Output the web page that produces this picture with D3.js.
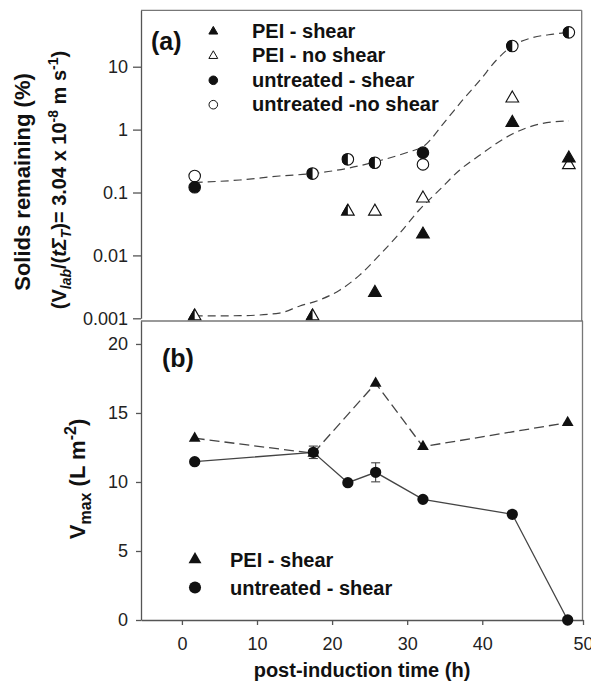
<!DOCTYPE html>
<html>
<head>
<meta charset="utf-8">
<script src="https://cdn.jsdelivr.net/npm/d3@7"></script>
<style>
  body { margin: 0; background: #fff; }
  svg text { font-family: "Liberation Sans", Arial, sans-serif; fill: #111; }
  .axis text { font-size: 18px; fill: #222; }
  .axis path, .axis line { stroke: #555; stroke-width: 1.3; }
  .frame { stroke: #777; stroke-width: 1.3; }
  .bold { font-weight: bold; }
</style>
</head>
<body>
<div id="chart-area"></div>
<script>
// ---- (a) solids remaining, log scale ----
var hoursSolids = [1.7, 17.4, 22.1, 25.7, 32.1, 44, 48.8];
var peiShear = [0.00108, 0.00108, 0.05, 0.00255, 0.0216, 1.29, 0.35];
var peiNoShear = [0.00108, 0.00108, 0.05, 0.05, 0.081, 3.15, 0.274];
var untreatedShear = [0.121, 0.20, 0.337, 0.298, 0.43, 21.3, 35.2];
var untreatedNoShear = [0.183, 0.20, 0.337, 0.298, 0.28, 21.3, 35.2];

// dashed trend curves
var untreatedFitTime = [1.7, 7.7, 13.0, 17.4, 22.1, 26.3, 30.3, 32.1, 35.2, 37.4, 39.7, 41.9, 44.1, 45.5, 47.5, 48.8];
var untreatedFitValue = [0.145, 0.158, 0.183, 0.20, 0.243, 0.32, 0.445, 0.535, 1.42, 2.96, 6.1, 12.8, 22, 28.3, 33, 35.2];
var peiFitTime = [1.7, 7.7, 13.0, 15.7, 18.3, 21.0, 23.7, 26.3, 29.0, 31.6, 34.3, 37.0, 39.5, 44.0, 46.5, 48.8];
var peiFitValue = [0.00109, 0.0011, 0.00121, 0.00157, 0.00195, 0.0028, 0.0049, 0.0101, 0.0225, 0.0527, 0.11, 0.228, 0.38, 0.85, 1.25, 1.38];

var solidsTicks = [0.001, 0.01, 0.1, 1, 10];
var solidsTickLabels = ["0.001", "0.01", "0.1", "1", "10"];

// ---- (b) Vmax ----
var hoursPei = [1.7, 17.5, 25.8, 32.1, 48.7];
var vmaxPei = [13.17, 12.08, 17.15, 12.56, 14.3];
var hoursUntreated = [1.7, 17.5, 22.1, 25.8, 32.1, 44, 48.7];
var vmaxUntreated = [11.47, 12.15, 9.95, 10.7, 8.74, 7.66, 0];
var vmaxUntreatedErr = [0, 0.45, 0, 0.69, 0, 0.2, 0];

var vmaxTicks = [0, 5, 10, 15, 20];
var timeTicks = [0, 10, 20, 30, 40, 50];

var legendA = ["PEI - shear", "PEI - no shear", "untreated - shear", "untreated -no shear"];
var legendB = ["PEI - shear", "untreated - shear"];

var width = 591, height = 690;
var left = 141, right = 583;

var svg = d3.select("#chart-area")
    .append("svg")
    .attr("width", width)
    .attr("height", height);

// clip used to draw the left half of a filled symbol over an open one
svg.append("defs").append("clipPath")
    .attr("id", "left-half")
    .attr("clipPathUnits", "objectBoundingBox")
    .append("rect")
    .attr("x", 0).attr("y", 0).attr("width", 0.5).attr("height", 1);

// x scale: the figure's last interval is drawn wider than the rest
var x = d3.scaleLinear()
    .domain([-5.45, 44, 50])
    .range([left, 512.3, right]);

var yTop = d3.scaleLog()
    .domain([0.001, Math.pow(10, 1.897)])
    .range([318.3, 10.3]);

var yBot = d3.scaleLinear()
    .domain([0, 21.7])
    .range([620, 320.5]);

var tri = d3.symbol().type(d3.symbolTriangle);
var circ = d3.symbol().type(d3.symbolCircle);

// ================= panel (a) =================
svg.append("g")
    .attr("class", "axis")
    .attr("transform", "translate(" + left + ",0)")
    .call(d3.axisLeft(yTop)
        .tickValues(solidsTicks)
        .tickFormat(function(d, i) { return solidsTickLabels[i]; })
        .tickSize(8).tickSizeOuter(0).tickPadding(5));

svg.append("line").attr("class", "frame")
    .attr("x1", left).attr("x2", 581.7).attr("y1", 10.3).attr("y2", 10.3);
svg.append("line").attr("class", "frame")
    .attr("x1", 581.7).attr("x2", 581.7).attr("y1", 10.3).attr("y2", 321);

var fitLine = d3.line()
    .x(function(d) { return x(d[0]); })
    .y(function(d) { return yTop(d[1]); })
    .curve(d3.curveMonotoneX);

svg.append("path")
    .datum(d3.zip(untreatedFitTime, untreatedFitValue))
    .attr("d", fitLine)
    .attr("fill", "none").attr("stroke", "#444").attr("stroke-width", 1.2)
    .attr("stroke-dasharray", "8,5");

svg.append("path")
    .datum(d3.zip(peiFitTime, peiFitValue))
    .attr("d", fitLine)
    .attr("fill", "none").attr("stroke", "#444").attr("stroke-width", 1.2)
    .attr("stroke-dasharray", "8,5");

// draw an open series, then the filled series (half-filled where both coincide)
function drawPair(gen, size, filledVals, openVals) {
    var g = svg.append("g");
    hoursSolids.forEach(function(t, i) {
        var tr = "translate(" + x(t) + "," + yTop(openVals[i]) + ")";
        g.append("path").attr("d", gen.size(size)()).attr("transform", tr)
            .attr("fill", "#fff").attr("stroke", "#111").attr("stroke-width", 1.1);
    });
    hoursSolids.forEach(function(t, i) {
        var tr = "translate(" + x(t) + "," + yTop(filledVals[i]) + ")";
        var p = g.append("path").attr("d", gen.size(size)()).attr("transform", tr)
            .attr("fill", "#111").attr("stroke", "#111").attr("stroke-width", 1.1);
        if (filledVals[i] === openVals[i]) p.attr("clip-path", "url(#left-half)");
    });
}
drawPair(tri, 70, peiShear, peiNoShear);
drawPair(circ, 104, untreatedShear, untreatedNoShear);

svg.append("text").attr("class", "bold")
    .attr("x", 151).attr("y", 50)
    .style("font-size", "25px")
    .text("(a)");

// legend (a)
var legA = svg.append("g");
var legASymbols = [
    {gen: tri, size: 34, fill: "#111"},
    {gen: tri, size: 34, fill: "#fff"},
    {gen: circ, size: 58, fill: "#111"},
    {gen: circ, size: 58, fill: "#fff"}
];
legendA.forEach(function(label, i) {
    var yy = 38 + i * 24.4;
    legA.append("path")
        .attr("d", legASymbols[i].gen.size(legASymbols[i].size)())
        .attr("transform", "translate(213.3," + (yy - 6.5) + ")")
        .attr("fill", legASymbols[i].fill).attr("stroke", "#111").attr("stroke-width", 1);
    legA.append("text").attr("class", "bold")
        .attr("x", 252).attr("y", yy)
        .style("font-size", "20px")
        .text(label);
});

// y label (a)
svg.append("text").attr("class", "bold")
    .attr("transform", "translate(30,182) rotate(-90)")
    .attr("text-anchor", "middle")
    .style("font-size", "22px")
    .text("Solids remaining (%)");

var lab2 = svg.append("text").attr("class", "bold")
    .attr("transform", "translate(66,180) rotate(-90)")
    .attr("text-anchor", "middle")
    .style("font-size", "20px");
lab2.append("tspan").text("(V");
lab2.append("tspan").attr("dy", 5).style("font-size", "14px").style("font-style", "italic").text("lab");
lab2.append("tspan").attr("dy", -5).text("/(");
lab2.append("tspan").style("font-style", "italic").text("t\u03A3");
lab2.append("tspan").attr("dy", 5).style("font-size", "14px").style("font-style", "italic").text("T");
lab2.append("tspan").attr("dy", -5).text(")= 3.04 x 10");
lab2.append("tspan").attr("dy", -8).style("font-size", "14px").text("-8");
lab2.append("tspan").attr("dy", 8).text(" m s");
lab2.append("tspan").attr("dy", -8).style("font-size", "14px").text("-1");
lab2.append("tspan").attr("dy", 8).text(")");

// ================= panel (b) =================
svg.append("g")
    .attr("class", "axis")
    .attr("transform", "translate(" + left + ",0)")
    .call(d3.axisLeft(yBot).tickValues(vmaxTicks)
        .tickSize(5).tickSizeOuter(0).tickPadding(8));

svg.append("g")
    .attr("class", "axis")
    .attr("transform", "translate(0,620)")
    .call(d3.axisBottom(x).tickValues(timeTicks)
        .tickSize(5).tickSizeOuter(0).tickPadding(12));

svg.append("line").attr("class", "frame")
    .attr("x1", left).attr("x2", right).attr("y1", 321).attr("y2", 321);
svg.append("line").attr("class", "frame")
    .attr("x1", 582.5).attr("x2", 582.5).attr("y1", 321).attr("y2", 620);

var vLine = d3.line()
    .x(function(d) { return x(d[0]); })
    .y(function(d) { return yBot(d[1]); });

svg.append("path")
    .datum(d3.zip(hoursPei, vmaxPei))
    .attr("d", vLine)
    .attr("fill", "none").attr("stroke", "#444").attr("stroke-width", 1.3)
    .attr("stroke-dasharray", "10,5");

svg.append("path")
    .datum(d3.zip(hoursUntreated, vmaxUntreated))
    .attr("d", vLine)
    .attr("fill", "none").attr("stroke", "#444").attr("stroke-width", 1.3);

// error bars
var errData = d3.zip(hoursUntreated, vmaxUntreated, vmaxUntreatedErr)
    .filter(function(d) { return d[2] > 0; });
var eb = svg.append("g").attr("stroke", "#444").attr("stroke-width", 1.1);
errData.forEach(function(d) {
    var cx = x(d[0]);
    eb.append("line").attr("x1", cx).attr("x2", cx)
        .attr("y1", yBot(d[1] - d[2])).attr("y2", yBot(d[1] + d[2]));
    [d[1] - d[2], d[1] + d[2]].forEach(function(v) {
        eb.append("line").attr("x1", cx - 4.5).attr("x2", cx + 4.5)
            .attr("y1", yBot(v)).attr("y2", yBot(v));
    });
});

svg.append("g").selectAll("path")
    .data(d3.zip(hoursUntreated, vmaxUntreated))
    .enter().append("path")
    .attr("d", circ.size(100)())
    .attr("transform", function(d) { return "translate(" + x(d[0]) + "," + yBot(d[1]) + ")"; })
    .attr("fill", "#111");

svg.append("g").selectAll("path")
    .data(d3.zip(hoursPei, vmaxPei))
    .enter().append("path")
    .attr("d", tri.size(60)())
    .attr("transform", function(d) { return "translate(" + x(d[0]) + "," + yBot(d[1]) + ")"; })
    .attr("fill", "#111");

svg.append("text").attr("class", "bold")
    .attr("x", 162).attr("y", 367)
    .style("font-size", "25px")
    .text("(b)");

// legend (b)
var legB = svg.append("g");
legendB.forEach(function(label, i) {
    var yy = 567 + i * 28;
    legB.append("path")
        .attr("d", (i === 0 ? tri.size(72) : circ.size(115))())
        .attr("transform", "translate(195," + (yy - 7.5) + ")")
        .attr("fill", "#111");
    legB.append("text").attr("class", "bold")
        .attr("x", 230).attr("y", yy)
        .style("font-size", "20px")
        .text(label);
});

// y label (b)
var vlab = svg.append("text").attr("class", "bold")
    .attr("transform", "translate(85,479) rotate(-90)")
    .attr("text-anchor", "middle")
    .style("font-size", "22px");
vlab.append("tspan").text("V");
vlab.append("tspan").attr("dy", 6).style("font-size", "16px").text("max");
vlab.append("tspan").attr("dy", -6).text(" (L m");
vlab.append("tspan").attr("dy", -9).style("font-size", "16px").text("-2");
vlab.append("tspan").attr("dy", 9).text(")");

// x label
svg.append("text").attr("class", "bold")
    .attr("x", 362).attr("y", 677)
    .attr("text-anchor", "middle")
    .style("font-size", "20px")
    .text("post-induction time (h)");
</script>
</body>
</html>
